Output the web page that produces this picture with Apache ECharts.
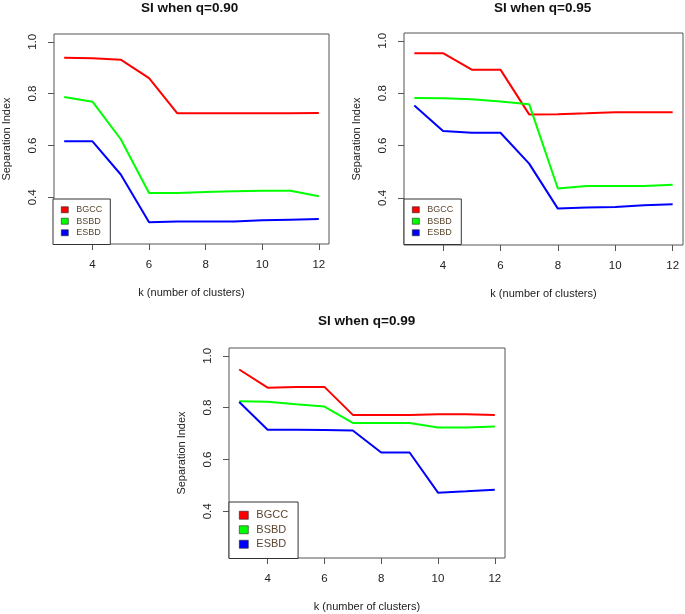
<!DOCTYPE html>
<html>
<head>
<meta charset="utf-8">
<script src="https://cdn.jsdelivr.net/npm/echarts@6/dist/echarts.min.js"></script>
<style>html,body{margin:0;padding:0;background:#fff;}#c{width:685px;height:614px;}</style>
</head>
<body>
<div id="c"></div>
<script>
const kValues = [3, 4, 5, 6, 7, 8, 9, 10, 11, 12];
const xTicks = [4, 6, 8, 10, 12];
const yTicks = [0.4, 0.6, 0.8, 1.0];
const seriesNames = ['BGCC', 'BSBD', 'ESBD'];
const seriesColors = ['#ff0000', '#00ff00', '#0000ff'];
const panelTitles = ['SI when q=0.90', 'SI when q=0.95', 'SI when q=0.99'];

const q090_BGCC = [0.938, 0.936, 0.931, 0.860, 0.724, 0.724, 0.724, 0.724, 0.724, 0.725];
const q090_BSBD = [0.787, 0.769, 0.624, 0.417, 0.417, 0.421, 0.423, 0.425, 0.425, 0.404];
const q090_ESBD = [0.616, 0.616, 0.488, 0.304, 0.307, 0.307, 0.307, 0.312, 0.314, 0.316];

const q095_BGCC = [0.953, 0.953, 0.890, 0.890, 0.719, 0.720, 0.723, 0.727, 0.727, 0.727];
const q095_BSBD = [0.782, 0.781, 0.777, 0.768, 0.758, 0.436, 0.445, 0.445, 0.445, 0.450];
const q095_ESBD = [0.753, 0.656, 0.649, 0.649, 0.531, 0.359, 0.363, 0.365, 0.372, 0.376];

const q099_BGCC = [0.947, 0.877, 0.880, 0.880, 0.772, 0.772, 0.772, 0.774, 0.774, 0.772];
const q099_BSBD = [0.825, 0.823, 0.813, 0.804, 0.741, 0.741, 0.741, 0.723, 0.723, 0.727];
const q099_ESBD = [0.822, 0.715, 0.715, 0.714, 0.712, 0.627, 0.627, 0.472, 0.477, 0.483];

const panelData = [
  [q090_BGCC, q090_BSBD, q090_ESBD],
  [q095_BGCC, q095_BSBD, q095_ESBD],
  [q099_BGCC, q099_BSBD, q099_ESBD]
];

const FONT = 'Liberation Sans, Arial, sans-serif';
const grids = [
  {left: 53, top: 34, width: 276, height: 210},
  {left: 404, top: 33, width: 279, height: 212},
  {left: 229, top: 348, width: 276, height: 210}
];
const titlePos = [{left: 141, top: 1}, {left: 494, top: 1}, {left: 318, top: 314}];
const legendCfg = [
  {left: 53, top: 199, font: 9, line: 11.5, pad: [5, 8, 6, 8], iw: 7, ih: 6},
  {left: 404, top: 199, font: 9, line: 11.5, pad: [5, 8, 6, 8], iw: 7, ih: 6},
  {left: 229, top: 502, font: 11, line: 14.5, pad: [6, 10, 7, 10], iw: 9, ih: 8}
];

const option = {
  animation: false,
  backgroundColor: '#fff',
  title: panelTitles.map((t, i) => ({
    text: t, left: titlePos[i].left, top: titlePos[i].top, padding: 0,
    textStyle: {fontFamily: FONT, fontSize: 13.5, fontWeight: 'bold', color: '#111'}
  })),
  grid: grids.map(g => Object.assign({show: true, borderColor: '#555', borderWidth: 1, backgroundColor: 'transparent'}, g)),
  xAxis: grids.map((g, i) => ({
    type: 'value', gridIndex: i, min: 2.64, max: 12.36,
    name: 'k (number of clusters)', nameLocation: 'middle', nameGap: 43,
    nameTextStyle: {fontFamily: FONT, fontSize: 11, color: '#222'},
    axisLine: {show: false},
    axisTick: {show: true, customValues: xTicks, length: 6, lineStyle: {color: '#555'}},
    axisLabel: {customValues: xTicks, margin: 15, fontFamily: FONT, fontSize: 11.5, color: '#222'},
    splitLine: {show: false}
  })),
  yAxis: grids.map((g, i) => ({
    type: 'value', gridIndex: i, min: 0.22, max: 1.03,
    name: 'Separation Index', nameLocation: 'middle', nameGap: 42,
    nameTextStyle: {fontFamily: FONT, fontSize: 11, color: '#222'},
    axisLine: {show: false},
    axisTick: {show: true, customValues: yTicks, length: 6, lineStyle: {color: '#555'}},
    axisLabel: {customValues: yTicks, margin: 15, rotate: 90, fontFamily: FONT, fontSize: 11.5, color: '#222',
      formatter: v => v.toFixed(1)},
    splitLine: {show: false}
  })),
  legend: legendCfg.map((l, i) => ({
    orient: 'vertical', left: l.left, top: l.top,
    data: seriesNames, icon: 'rect', itemWidth: l.iw, itemHeight: l.ih, itemGap: 0,
    padding: l.pad, backgroundColor: '#fff', borderColor: '#333', borderWidth: 1, borderRadius: 0,
    selectedMode: false,
    itemStyle: {borderColor: '#222', borderWidth: 0.6},
    textStyle: {fontFamily: FONT, fontSize: l.font, color: '#5a4630', lineHeight: l.line, padding: [0, 0, 0, 3]},
    z: 10
  })),
  series: []
};

panelData.forEach((arrs, p) => {
  arrs.forEach((vals, s) => {
    option.series.push({
      type: 'line', name: seriesNames[s], xAxisIndex: p, yAxisIndex: p,
      data: kValues.map((k, j) => [k, vals[j]]),
      showSymbol: false, symbol: 'none',
      lineStyle: {color: seriesColors[s], width: 2},
      itemStyle: {color: seriesColors[s]},
      z: 2
    });
  });
});

const chart = echarts.init(document.getElementById('c'), null, {renderer: 'canvas'});
chart.setOption(option);
</script>
</body>
</html>
